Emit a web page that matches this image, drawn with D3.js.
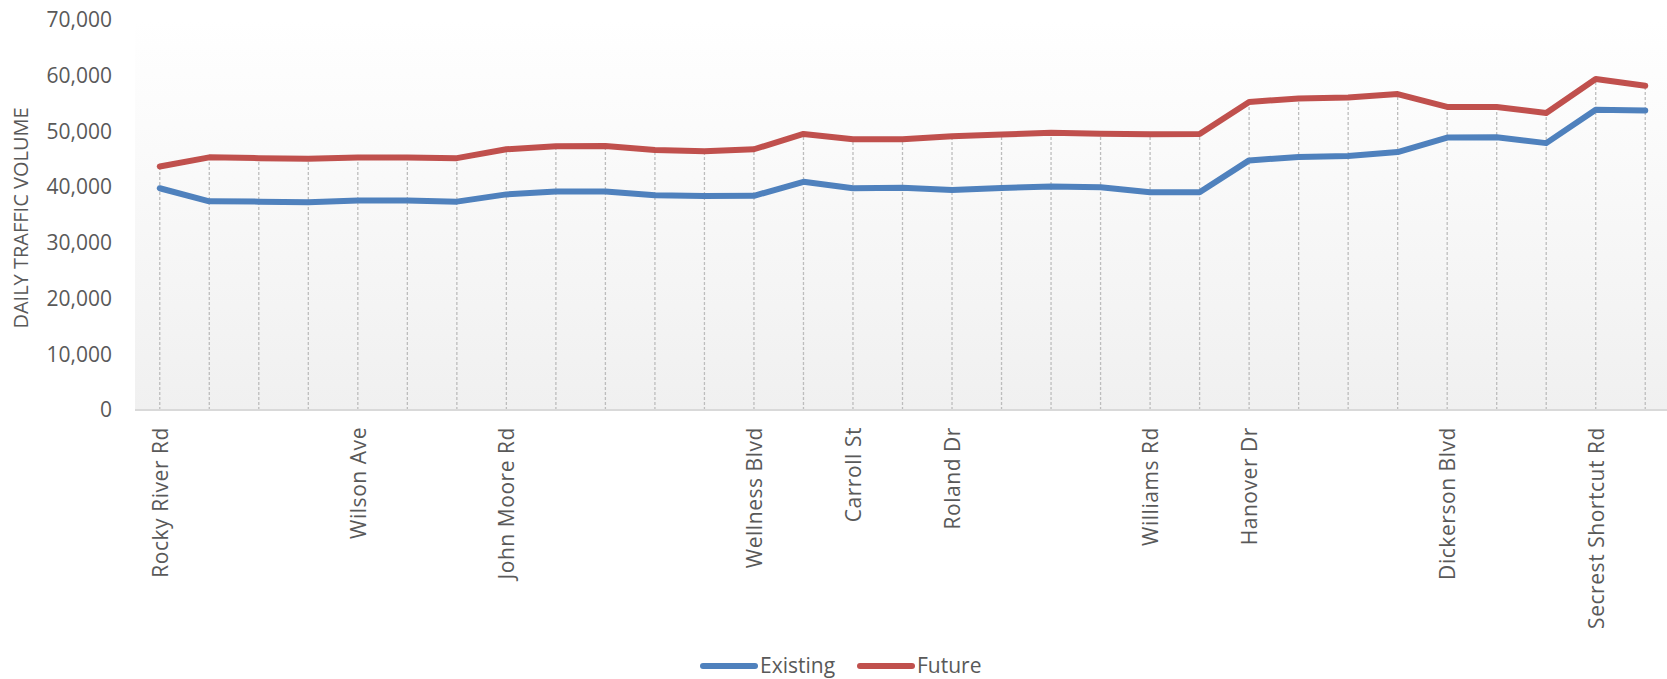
<!DOCTYPE html>
<html lang="en">
  <head>
    <meta charset="utf-8">
    <title>Daily traffic volume</title>
    <script src="https://d3js.org/d3.v7.min.js"></script>
    <style>
      body { margin: 0; background: #fff; }
      text { font-family: 'Open Sans', sans-serif; fill: #595959; }
    </style>
  </head>
  <body>
    <svg></svg>

    <script>
    // categories (only some of the intersections carry a label)
    const labels = [
      'Rocky River Rd', '', '', '', 'Wilson Ave', '', '', 'John Moore Rd', '', '', '',
      '', 'Wellness Blvd', '', 'Carroll St', '', 'Roland Dr', '', '', '', 'Williams Rd',
      '', 'Hanover Dr', '', '', '', 'Dickerson Blvd', '', '', 'Secrest Shortcut Rd', ''
    ]

    const existing = [
      39800, 37450, 37400, 37300, 37600, 37600, 37400, 38700, 39200, 39200, 38550,
      38400, 38450, 40950, 39800, 39900, 39500, 39850, 40100, 40000, 39100,
      39100, 44800, 45400, 45600, 46300, 48900, 48950, 47900, 53900, 53750
    ]

    const future = [
      43700, 45350, 45200, 45100, 45300, 45300, 45200, 46800, 47350, 47400, 46650,
      46450, 46800, 49550, 48600, 48600, 49150, 49450, 49750, 49600, 49480,
      49550, 55300, 55900, 56100, 56700, 54400, 54400, 53300, 59400, 58200
    ]

    const yTicks = [0, 10000, 20000, 30000, 40000, 50000, 60000, 70000]

    const series = [
      { name: 'Existing', values: existing, color: '#4f81bd' },
      { name: 'Future', values: future, color: '#c0504d' }
    ]

    const width = 1667
    const height = 679
    const plot = { left: 135, right: 1670, top: 20, bottom: 410 }

    const svg = d3.select('svg')
      .attr('width', width)
      .attr('height', height)

    const x = d3.scalePoint()
      .domain(d3.range(labels.length))
      .range([plot.left, plot.right])
      .padding(0.5)

    const y = d3.scaleLinear()
      .domain([0, 70000])
      .range([plot.bottom, plot.top])

    // plot area background, white fading to light gray
    const grad = svg.append('defs').append('linearGradient')
      .attr('id', 'bg')
      .attr('x1', 0).attr('y1', 0)
      .attr('x2', 0).attr('y2', 1)
    grad.append('stop').attr('offset', '0%').attr('stop-color', '#ffffff')
    grad.append('stop').attr('offset', '100%').attr('stop-color', '#f0f0f0')

    svg.append('rect')
      .attr('x', plot.left)
      .attr('y', plot.top)
      .attr('width', plot.right - plot.left)
      .attr('height', plot.bottom - plot.top)
      .attr('fill', 'url(#bg)')

    // drop lines from the highest point down to the axis
    svg.append('g')
      .selectAll('line')
      .data(d3.range(labels.length))
      .join('line')
        .attr('x1', i => x(i))
        .attr('x2', i => x(i))
        .attr('y1', y(0))
        .attr('y2', i => y(Math.max(existing[i], future[i])))
        .attr('stroke', '#bdbdbd')
        .attr('stroke-width', 1.3)
        .attr('stroke-dasharray', '3,2')

    // baseline
    svg.append('line')
      .attr('x1', plot.left)
      .attr('x2', plot.right)
      .attr('y1', y(0))
      .attr('y2', y(0))
      .attr('stroke', '#d9d9d9')
      .attr('stroke-width', 2)

    // y axis
    const yAxis = svg.append('g')
      .attr('transform', `translate(${plot.left}, 0)`)
      .call(d3.axisLeft(y)
        .tickValues(yTicks)
        .tickFormat(d3.format(','))
        .tickSize(0)
        .tickPadding(23))
    yAxis.select('.domain').remove()
    yAxis.selectAll('text')
      .style('font-size', '21px')
      .style('font-family', "'Open Sans', sans-serif")
      .attr('fill', '#595959')

    svg.append('text')
      .attr('transform', `translate(28, ${(plot.top + plot.bottom) / 2 + 3}) rotate(-90)`)
      .attr('text-anchor', 'middle')
      .style('font-size', '20px')
      .text('DAILY TRAFFIC VOLUME')

    // x axis, rotated labels
    const xAxis = svg.append('g')
      .attr('transform', `translate(0, ${plot.bottom})`)
      .call(d3.axisBottom(x)
        .tickFormat(i => labels[i])
        .tickSize(0))
    xAxis.select('.domain').remove()
    xAxis.selectAll('text')
      .attr('transform', 'rotate(-90)')
      .attr('x', -17)
      .attr('y', 0)
      .attr('dy', '0.35em')
      .style('text-anchor', 'end')
      .style('font-size', '21px')
      .style('letter-spacing', '0.55px')
      .style('font-family', "'Open Sans', sans-serif")
      .attr('fill', '#595959')

    // lines
    const line = d3.line()
      .x((d, i) => x(i))
      .y(d => y(d))

    svg.append('g')
      .selectAll('path')
      .data(series)
      .join('path')
        .attr('d', d => line(d.values))
        .attr('fill', 'none')
        .attr('stroke', d => d.color)
        .attr('stroke-width', 6)
        .attr('stroke-linecap', 'round')
        .attr('stroke-linejoin', 'round')

    // legend
    const legend = svg.append('g')
      .attr('transform', 'translate(700, 666)')

    const item = legend.selectAll('g')
      .data(series)
      .join('g')
        .attr('transform', (d, i) => `translate(${i * 157}, 0)`)

    item.append('line')
      .attr('x1', 3)
      .attr('x2', 55)
      .attr('stroke', d => d.color)
      .attr('stroke-width', 6)
      .attr('stroke-linecap', 'round')

    item.append('text')
      .attr('x', 60)
      .attr('dy', '0.35em')
      .style('font-size', '21px')
      .text(d => d.name)
    </script>
  </body>
</html>
